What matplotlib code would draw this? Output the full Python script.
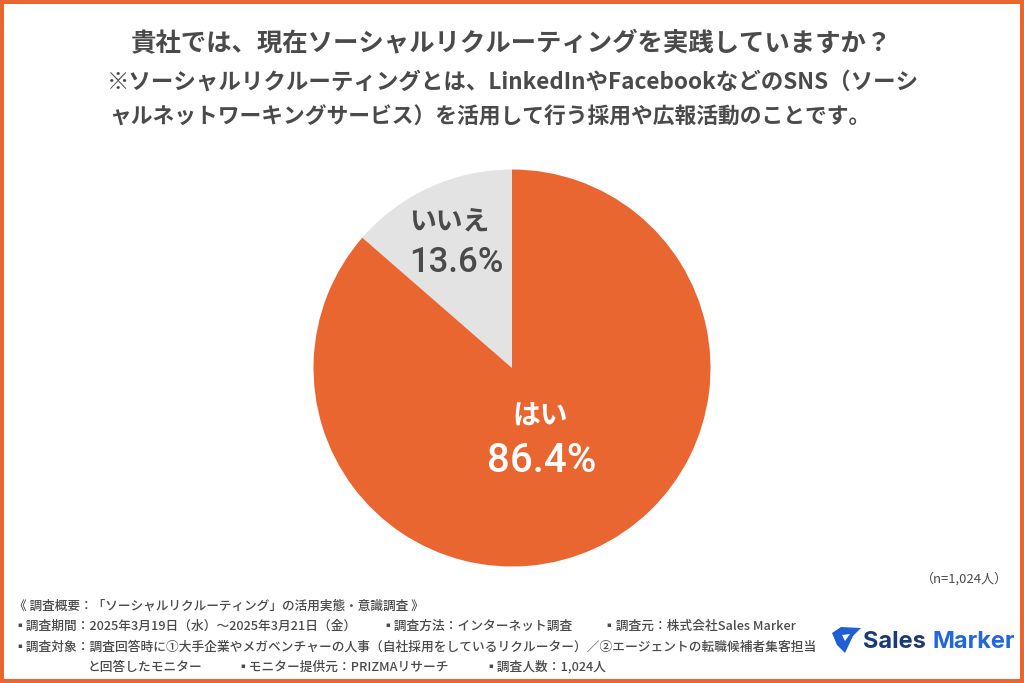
import matplotlib
matplotlib.use('Agg')
import matplotlib.pyplot as plt
from matplotlib.patches import Rectangle, Polygon

plt.rcParams['font.family'] = ['Noto Sans CJK JP', 'DejaVu Sans']

labels = ['いいえ', 'はい']
values = [13.6, 86.4]
value_texts = ['13.6%', '86.4%']
colors = ['#E3E3E3', '#E96631']

title = '貴社では、現在ソーシャルリクルーティングを実践していますか？'
note_1 = '※ソーシャルリクルーティングとは、LinkedInやFacebookなどのSNS（ソーシ'
note_2 = 'ャルネットワーキングサービス）を活用して行う採用や広報活動のことです。'
sample = '（n=1,024人）'
footer_head = '《 調査概要：「ソーシャルリクルーティング」の活用実態・意識調査 》'
footer_rows = [
    [(13, '▪調査期間：2025年3月19日（水）〜2025年3月21日（金）'),
     (381, '▪調査方法：インターネット調査'),
     (603, '▪調査元：株式会社Sales Marker')],
    [(13, '▪調査対象：調査回答時に①大手企業やメガベンチャーの人事（自社採用をしているリクルーター）／②エージェントの転職候補者集客担当')],
    [(88, 'と回答したモニター'),
     (236, '▪モニター提供元：PRIZMAリサーチ'),
     (484, '▪調査人数：1,024人')],
]

text_col = '#4A4A4A'
W, H = 1024, 683
fig = plt.figure(figsize=(W / 100, H / 100), dpi=100, facecolor='white')

# overlay in pixel coords for texts and frame
bg = fig.add_axes([0, 0, 1, 1])
bg.set_xlim(0, W)
bg.set_ylim(H, 0)
bg.axis('off')
bg.add_patch(Rectangle((2, 2), W - 4, H - 4, fill=False, ec='#E96631', lw=2.9))

bg.text(511.5, 43.5, title, fontsize=18.3, fontweight='bold', color=text_col, ha='center', va='center')
bg.text(107, 82.5, note_1, fontsize=16.2, fontweight='bold', color=text_col, ha='left', va='center')
bg.text(109, 117.5, note_2, fontsize=15.7, fontweight='bold', color=text_col, ha='left', va='center')

# pie
cx, cy, r = 512, 368, 198.5
ax = fig.add_axes([(cx - r) / W, 1 - (cy + r) / H, 2 * r / W, 2 * r / H])
ax.pie(values, colors=colors, startangle=90, counterclock=True, radius=1.0)
ax.set_xlim(-1, 1)
ax.set_ylim(-1, 1)

bg.set_zorder(ax.get_zorder() + 1)
bg.patch.set_alpha(0)

# no condensed face installed, so the percent labels are sized to match the width
num_font = ['Roboto', 'Noto Sans CJK JP']
bg.text(449, 221, labels[0], fontsize=19.3, fontweight='bold', color=text_col, ha='center', va='center')
bg.text(456, 263, value_texts[0], fontsize=25, fontweight='medium', color=text_col, ha='center', va='center',
        family=num_font)
bg.text(540, 417, labels[1], fontsize=20, fontweight='bold', color='white', ha='center', va='center')
bg.text(542, 461, value_texts[1], fontsize=29, fontweight='medium', color='white', ha='center', va='center',
        family=num_font)

# footer
bg.text(1008, 579, sample, fontsize=9.4, color=text_col, ha='right', va='center')
bg.text(14, 606, footer_head, fontsize=9.1, fontweight='medium', color=text_col, ha='left', va='center')
for row, y in zip(footer_rows, [626, 647, 667]):
    for x, s in row:
        bg.text(x, y, s, fontsize=9.15, fontweight='medium', color=text_col, ha='left', va='center')

# logo
bg.add_patch(Polygon([(832, 633), (841, 627), (861, 628), (853, 636), (845, 653), (837, 645)],
                     closed=True, fc='#1F5FD6', ec='none'))
bg.add_patch(Polygon([(842, 635), (850, 634), (845, 641)], closed=True, fc='white', ec='none'))
bg.text(863, 642, 'Sales', fontsize=17, fontweight='bold', color='#1B3A7A', ha='left', va='center',
        family=['Inter', 'DejaVu Sans'])
bg.text(932, 642, 'Marker', fontsize=17, fontweight='bold', color='#2467DC', ha='left', va='center',
        family=['Inter', 'DejaVu Sans'])

fig.savefig('out.png', dpi=100)
